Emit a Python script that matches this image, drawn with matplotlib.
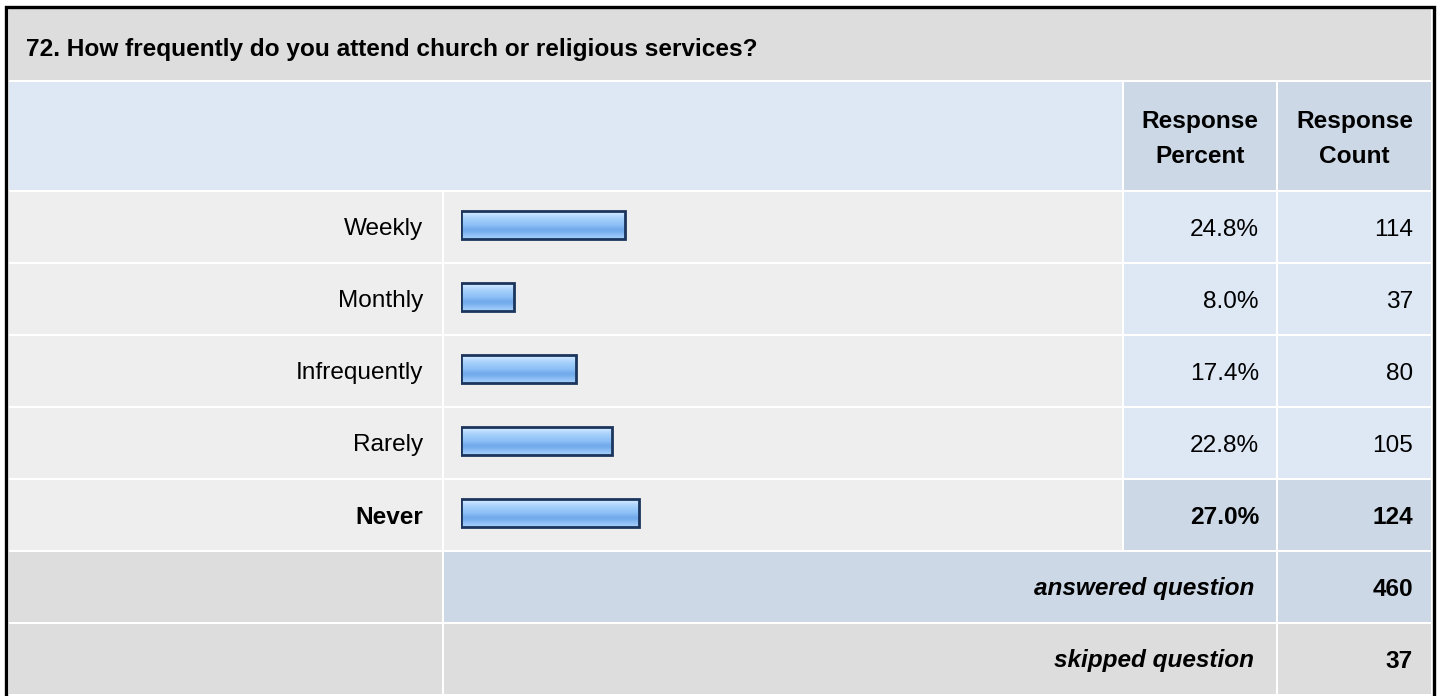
import numpy as np
import matplotlib
matplotlib.use('Agg')
import matplotlib.pyplot as plt
from matplotlib.patches import Rectangle

title = '72. How frequently do you attend church or religious services?'
categories = ['Weekly', 'Monthly', 'Infrequently', 'Rarely', 'Never']
percents = [24.8, 8.0, 17.4, 22.8, 27.0]
counts = [114, 37, 80, 105, 124]
answered = 460
skipped = 37
header_cols = [('Response', 'Percent'), ('Response', 'Count')]

plt.rcParams['font.family'] = ['Liberation Sans', 'DejaVu Sans']
FS = 17.6

# colours
GREY = '#DDDDDD'
ROW_BG = '#EEEEEE'
LBLUE = '#DEE8F5'
MBLUE = '#CCD8E6'
EDGE = '#1B355C'

W, H = 1440, 696
fig = plt.figure(figsize=(W / 100, H / 100), dpi=100)
fig.patch.set_facecolor('white')
ax = fig.add_axes([0, 0, 1, 1])
ax.set_xlim(0, W)
ax.set_ylim(H, 0)
ax.axis('off')

def cell(x0, x1, y0, y1, color):
    ax.add_patch(Rectangle((x0, y0), x1 - x0, y1 - y0, facecolor=color, edgecolor='none'))

# column edges (pixels)
lab = (9, 442)
barc = (444, 1122)
pct = (1124, 1276)
cnt = (1278, 1431)
row0 = 192
pitch = 72
rh = 70

# outer frame
ax.plot([5.5, 5.5, 1434, 1434], [H, 6.5, 6.5, H], color='black', lw=2.4, solid_joinstyle='miter')

# title row
cell(9, 1431, 9, 80, GREY)
ax.text(26, 56, title, fontsize=FS, fontweight='bold', va='baseline', ha='left')

# header row
cell(9, 1122, 82, 190, LBLUE)
for (x0, x1), (l1, l2) in zip([pct, cnt], header_cols):
    cell(x0, x1, 82, 190, MBLUE)
    xc = (x0 + x1) / 2
    ax.text(xc, 128, l1, fontsize=FS, fontweight='bold', ha='center', va='baseline')
    ax.text(xc, 163, l2, fontsize=FS, fontweight='bold', ha='center', va='baseline')

top_i = int(np.argmax(percents))
for i, (c, p, n) in enumerate(zip(categories, percents, counts)):
    y0 = row0 + pitch * i
    y1 = y0 + rh
    base = y0 + 35 + 8.5
    hl = i == top_i
    cell(*lab, y0, y1, ROW_BG)
    cell(*barc, y0, y1, ROW_BG)
    cell(*pct, y0, y1, MBLUE if hl else LBLUE)
    cell(*cnt, y0, y1, MBLUE if hl else LBLUE)
    fw = 'bold' if hl else 'normal'
    ax.text(423, base, c, fontsize=FS, fontweight=fw, ha='right', va='baseline')
    ax.text(1259, base, f'{p:.1f}%', fontsize=FS, fontweight=fw, ha='right', va='baseline')
    ax.text(1413, base, str(n), fontsize=FS, fontweight=fw, ha='right', va='baseline')

# answered / skipped rows
ya = row0 + pitch * len(categories)
cell(*lab, ya, ya + rh, GREY)
cell(barc[0], pct[1], ya, ya + rh, MBLUE)
cell(*cnt, ya, ya + rh, MBLUE)
ax.text(1254, ya + 43.5, 'answered question', fontsize=FS, fontweight='bold',
        style='italic', ha='right', va='baseline')
ax.text(1413, ya + 43.5, str(answered), fontsize=FS, fontweight='bold', ha='right', va='baseline')

ys = ya + pitch
cell(*lab, ys, ys + rh, GREY)
cell(barc[0], pct[1], ys, ys + rh, GREY)
cell(*cnt, ys, ys + rh, GREY)
ax.text(1254, ys + 43.5, 'skipped question', fontsize=FS, fontweight='bold',
        style='italic', ha='right', va='baseline')
ax.text(1413, ys + 43.5, str(skipped), fontsize=FS, fontweight='bold', ha='right', va='baseline')

# bar axes: 0-100 % mapped over the bar column
n = len(categories)
bax = fig.add_axes([461 / W, 1 - (row0 - 1 + pitch * n) / H, 661 / W, pitch * n / H])
bax.patch.set_alpha(0)
bax.axis('off')

grad_cols = ['#D2E9FF', '#C4E1FF', '#B4D8FD', '#A6D0FB', '#9CCAF9', '#94C5F8',
             '#8CC0F6', '#7EB4F0', '#72ABEB', '#76AEED', '#86BAF3', '#93C3F7', '#A2CCF9']
grad = np.array([matplotlib.colors.to_rgb(c) for c in grad_cols])[:, None, :]
h = 28 / pitch
ypos = np.arange(n)
for i, p in enumerate(percents):
    bax.imshow(grad, extent=(0, p, i + h / 2, i - h / 2), aspect='auto',
               interpolation='bilinear', zorder=2)
bax.barh(ypos, percents, height=h, left=0, fill=False, edgecolor=EDGE, lw=2.0, zorder=3)
bax.set_xlim(0, 100)
shift = 2 / pitch
bax.set_ylim(n - 0.5 + shift, -0.5 + shift)

fig.savefig('out.png', dpi=100)
